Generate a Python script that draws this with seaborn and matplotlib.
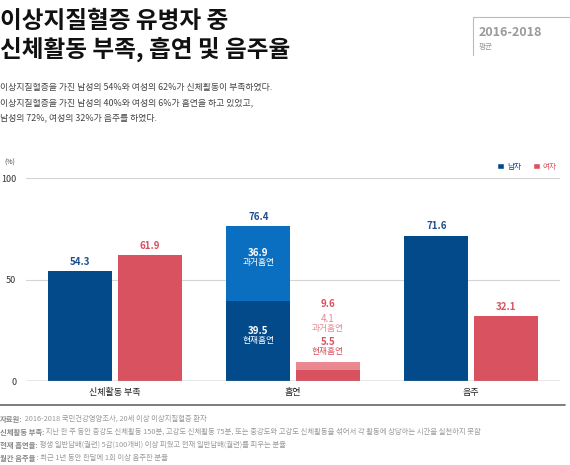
import pandas as pd
import matplotlib.pyplot as plt
import seaborn as sns
from matplotlib.patches import Patch

# 데이터
categories = ['신체활동 부족', '흡연', '음주']
sexes = ['남자', '여자']
male_total = [54.3, 76.4, 71.6]
female_total = [61.9, 9.6, 32.1]
# 흡연: 현재흡연 / 과거흡연
male_smoke_current = 39.5
male_smoke_past = 36.9
female_smoke_current = 5.5
female_smoke_past = 4.1
y_ticks = [0, 50, 100]

title_lines = ['이상지질혈증 유병자 중', '신체활동 부족, 흡연 및 음주율']
subtitle_lines = [
    '이상지질혈증을 가진 남성의 54%와 여성의 62%가 신체활동이 부족하였다.',
    '이상지질혈증을 가진 남성의 40%와 여성의 6%가 흡연을 하고 있었고,',
    '남성의 72%, 여성의 32%가 음주를 하였다.',
]
footnotes = [
    ('자료원:', ' 2016-2018 국민건강영양조사, 20세 이상 이상지질혈증 환자'),
    ('신체활동 부족:', ' 지난 한 주 동안 중강도 신체활동 150분, 고강도 신체활동 75분, 또는 중강도와 고강도 신체활동을 섞어서 각 활동에 상당하는 시간을 실천하지 못함'),
    ('현재 흡연율:', ' 평생 일반담배(궐련) 5갑(100개비) 이상 피웠고 현재 일반담배(궐련)를 피우는 분율'),
    ('월간 음주율', ' : 최근 1년 동안 한달에 1회 이상 음주한 분율'),
]

# 색상
navy = '#034a8b'
blue_past = '#0b6fc1'
red = '#d95260'
red_light = '#eb8791'
label_blue = '#1d4f8f'

sns.set_theme(style='white')
plt.rcParams['font.family'] = ['Noto Sans CJK KR', 'DejaVu Sans']

df = pd.DataFrame({
    'category': categories * 2,
    'sex': [sexes[0]] * 3 + [sexes[1]] * 3,
    'value': male_total + female_total,
})
df_current = pd.DataFrame({
    'category': ['흡연', '흡연'],
    'sex': sexes,
    'value': [male_smoke_current, female_smoke_current],
})

W, H = 570, 465
fig = plt.figure(figsize=(5.7, 4.65), dpi=100)


def px(x, y):
    return x / W, 1 - y / H


ax = fig.add_axes([26 / W, 1 - 381 / H, (560 - 26) / W, (381 - 178) / H])

sns.barplot(data=df, x='category', y='value', hue='sex', order=categories,
            hue_order=sexes, palette=[navy, red], width=0.78, gap=0.08,
            saturation=1, linewidth=0, legend=False, ax=ax, zorder=2)
# 흡연 막대는 과거흡연 색으로 바꾸고 현재흡연을 위에 겹쳐 그림
ax.containers[0][1].set_facecolor(blue_past)
ax.containers[1][1].set_facecolor(red_light)
sns.barplot(data=df_current, x='category', y='value', hue='sex', order=categories,
            hue_order=sexes, palette=[navy, red], width=0.78, gap=0.08,
            saturation=1, linewidth=0, legend=False, ax=ax, zorder=3)

ax.set_xlim(-0.5, 2.5)
ax.set_ylim(0, 100)
ax.set_yticks(y_ticks)
ax.set_xlabel('')
ax.set_ylabel('')
for s in ax.spines.values():
    s.set_visible(False)
ax.grid(axis='y', color='#d4d4d4', lw=0.8, zorder=0)
ax.grid(axis='x', visible=False)
ax.axhline(0, color='#9a9a9a', lw=1.0, zorder=4)
ax.tick_params(axis='y', length=0, labelsize=6.5, labelcolor='#333333', pad=7)
ax.tick_params(axis='x', length=0, labelsize=6.5, labelcolor='#222222', pad=5)
for t in ax.get_xticklabels():
    t.set_fontweight('medium')
ax.set_xticks([0.5, 1.5], minor=True)
ax.tick_params(axis='x', which='minor', length=2.5, color='#777777', width=0.7)
ax.text(-0.02, 1.055, '(%)', transform=ax.transAxes, fontsize=5, color='#444444',
        ha='right', va='bottom')

# 막대 위 값
for i, v in enumerate(male_total):
    if categories[i] == '흡연':
        continue
    b = ax.containers[0][i]
    ax.annotate(f'{v:.1f}', (b.get_x() + b.get_width() / 2, v),
                xytext=(0, 3), textcoords='offset points', ha='center', va='bottom',
                fontsize=7, fontweight='bold', color=label_blue)
for i, v in enumerate(female_total):
    if categories[i] == '흡연':
        continue
    b = ax.containers[1][i]
    ax.annotate(f'{v:.1f}', (b.get_x() + b.get_width() / 2, v),
                xytext=(0, 3), textcoords='offset points', ha='center', va='bottom',
                fontsize=7, fontweight='bold', color=red)

# 흡연 남자
bm = ax.containers[0][1]
xm = bm.get_x() + bm.get_width() / 2
ax.annotate(f'{male_total[1]:.1f}', (xm, male_total[1]), xytext=(0, 3),
            textcoords='offset points', ha='center', va='bottom',
            fontsize=7, fontweight='bold', color=label_blue)
past_mid = male_smoke_current + male_smoke_past / 2
ax.text(xm, past_mid + 2.5, f'{male_smoke_past:.1f}', ha='center', va='bottom',
        fontsize=7, fontweight='bold', color='white', zorder=5)
ax.text(xm, past_mid + 2.5, '과거흡연', ha='center', va='top',
        fontsize=6.3, color='white', zorder=5)
cur_mid = male_smoke_current / 2
ax.text(xm, cur_mid + 2.5, f'{male_smoke_current:.1f}', ha='center', va='bottom',
        fontsize=7, fontweight='bold', color='white', zorder=5)
ax.text(xm, cur_mid + 2.5, '현재흡연', ha='center', va='top',
        fontsize=6.3, color='white', zorder=5)

# 흡연 여자 (막대 위에 표시)
bf = ax.containers[1][1]
xf = bf.get_x() + bf.get_width() / 2
ax.text(xf, 35.5, f'{female_total[1]:.1f}', ha='center', va='bottom',
        fontsize=7, fontweight='bold', color=red)
ax.text(xf, 28.3, f'{female_smoke_past:.1f}', ha='center', va='bottom',
        fontsize=7, color=red_light)
ax.text(xf, 28.3, '과거흡연', ha='center', va='top', fontsize=6.3, color=red_light)
ax.text(xf, 16.8, f'{female_smoke_current:.1f}', ha='center', va='bottom',
        fontsize=7, fontweight='bold', color=red)
ax.text(xf, 16.8, '현재흡연', ha='center', va='top', fontsize=6.3, color=red)

# 범례
handles = [Patch(facecolor=navy), Patch(facecolor=red)]
leg = ax.legend(handles, sexes, loc='lower right', bbox_to_anchor=(1.0, 1.02),
                ncol=2, frameon=False, fontsize=5.5, handlelength=0.9, handleheight=0.9,
                handletextpad=0.4, columnspacing=1.6, borderaxespad=0)
leg.get_texts()[0].set_color(navy)
leg.get_texts()[1].set_color(red)

# 제목
fig.text(*px(0, 9), title_lines[0], fontsize=17, fontweight='bold', color='#111111', va='top')
fig.text(*px(0, 37), title_lines[1], fontsize=17, fontweight='bold', color='#111111', va='top')
for k, line in enumerate(subtitle_lines):
    fig.text(*px(0, 87 + 15.5 * k), line, fontsize=6.4, color='#444444', va='center')

# 오른쪽 상자
fig.add_artist(plt.Line2D([473 / W, 473 / W], [1 - 17 / H, 1 - 55 / H], color='#bbbbbb', lw=0.8))
fig.add_artist(plt.Line2D([473 / W, 1.0], [1 - 17 / H, 1 - 17 / H], color='#bbbbbb', lw=0.8))
fig.text(*px(479, 32), '2016-2018', fontsize=9, fontweight='bold', color='#999999', va='center')
fig.text(*px(479, 47), '평균', fontsize=5.5, color='#999999', va='center')

# 각주
fig.add_artist(plt.Line2D([0, 565 / W], [1 - 405 / H, 1 - 405 / H], color='#666666', lw=1.2))
for k, (head, rest) in enumerate(footnotes):
    t = fig.text(*px(0, 419 + 13 * k), head, fontsize=5.3, fontweight='bold',
                 color='#888888', va='center')
    ann = plt.Annotation(rest, xy=(1, 0.5), xycoords=t, va='center', ha='left',
                         fontsize=5.3, color='#999999', annotation_clip=False)
    fig.add_artist(ann)

fig.savefig('out.png', dpi=100)
